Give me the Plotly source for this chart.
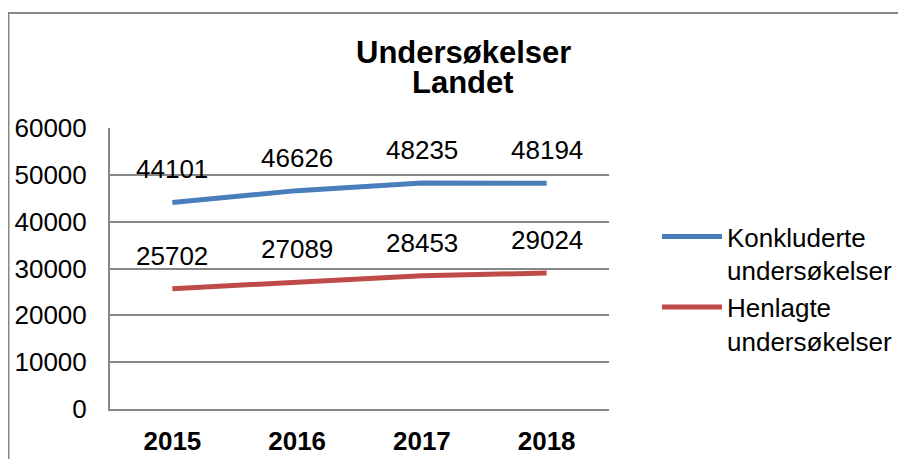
import plotly.graph_objects as go

years = ["2015", "2016", "2017", "2018"]
konkluderte = [44101, 46626, 48235, 48194]
henlagte = [25702, 27089, 28453, 29024]
series_names = ["Konkluderte<br>undersøkelser", "Henlagte<br>undersøkelser"]
colors = ["#4a7ebb", "#be4b48"]
title_lines = ["Undersøkelser", "Landet"]

# page body has an 8px margin; work in reference pixel coordinates
O = 8
W, H = 906 - O, 459 - O
L = 110 - O
T = 128 - O
R = W - (609 - O)
B = H - (409 - O)
pw, ph = W - L - R, H - T - B

def px_x(p):
    return (p - O - L) / pw

def px_y(p):
    return 1 - (p - O - T) / ph

FONT = "Liberation Sans, Arial, sans-serif"
GRID = "#878787"

fig = go.Figure()
for name, vals, col in zip(series_names, [konkluderte, henlagte], colors):
    fig.add_trace(go.Scatter(x=years, y=vals, mode="lines", name=name,
                             line=dict(color=col, width=5)))

annotations = []
for vals in [konkluderte, henlagte]:
    for i, v in enumerate(vals):
        annotations.append(dict(x=i, y=v, xref="x", yref="y", text=str(v),
                                showarrow=False, yshift=33, yanchor="middle",
                                font=dict(size=26, color="#000000", family=FONT)))

annotations.append(dict(x=px_x(463), y=px_y(52.6), xref="paper", yref="paper",
                        text="<b>%s</b>" % title_lines[0], showarrow=False,
                        xanchor="center", yanchor="middle", height=29,
                        font=dict(size=31, color="#000000", family=FONT)))
annotations.append(dict(x=px_x(463), y=px_y(82.8), xref="paper", yref="paper",
                        text="<b>%s</b>" % title_lines[1], showarrow=False,
                        xanchor="center", yanchor="middle", height=29,
                        font=dict(size=31, color="#000000", family=FONT)))

fig.update_layout(
    width=W, height=H,
    margin=dict(l=L, r=R, t=T, b=B, autoexpand=False),
    paper_bgcolor="white", plot_bgcolor="white",
    font=dict(family=FONT, size=26, color="#000000"),
    showlegend=True,
    legend=dict(x=px_x(657), y=px_y(213), xanchor="left", yanchor="top",
                font=dict(size=26, family=FONT, color="#000000"),
                itemwidth=60, valign="top", tracegroupgap=16,
                bgcolor="rgba(0,0,0,0)"),
    annotations=annotations,
    shapes=[dict(type="rect", xref="paper", yref="paper",
                 x0=px_x(8.5), x1=px_x(930), y0=px_y(480), y1=px_y(13),
                 line=dict(color=GRID, width=2), fillcolor="rgba(0,0,0,0)",
                 layer="above")],
)

fig.update_xaxes(type="category", range=[-0.5, 3.5], showgrid=False,
                 showline=True, linecolor=GRID, linewidth=2, ticks="",
                 tickfont=dict(size=26, family=FONT, color="#000000", weight="bold"),
                 ticklabelstandoff=8, zeroline=False, automargin=False)
fig.update_yaxes(range=[0, 60000], dtick=10000, showgrid=True, gridcolor=GRID,
                 gridwidth=1.5, showline=True, linecolor=GRID, linewidth=2,
                 ticks="", ticklabelstandoff=16, zeroline=False, automargin=False,
                 tickfont=dict(size=26, family=FONT, color="#000000"),
                 tickformat="d")

fig.write_html("out.html")
